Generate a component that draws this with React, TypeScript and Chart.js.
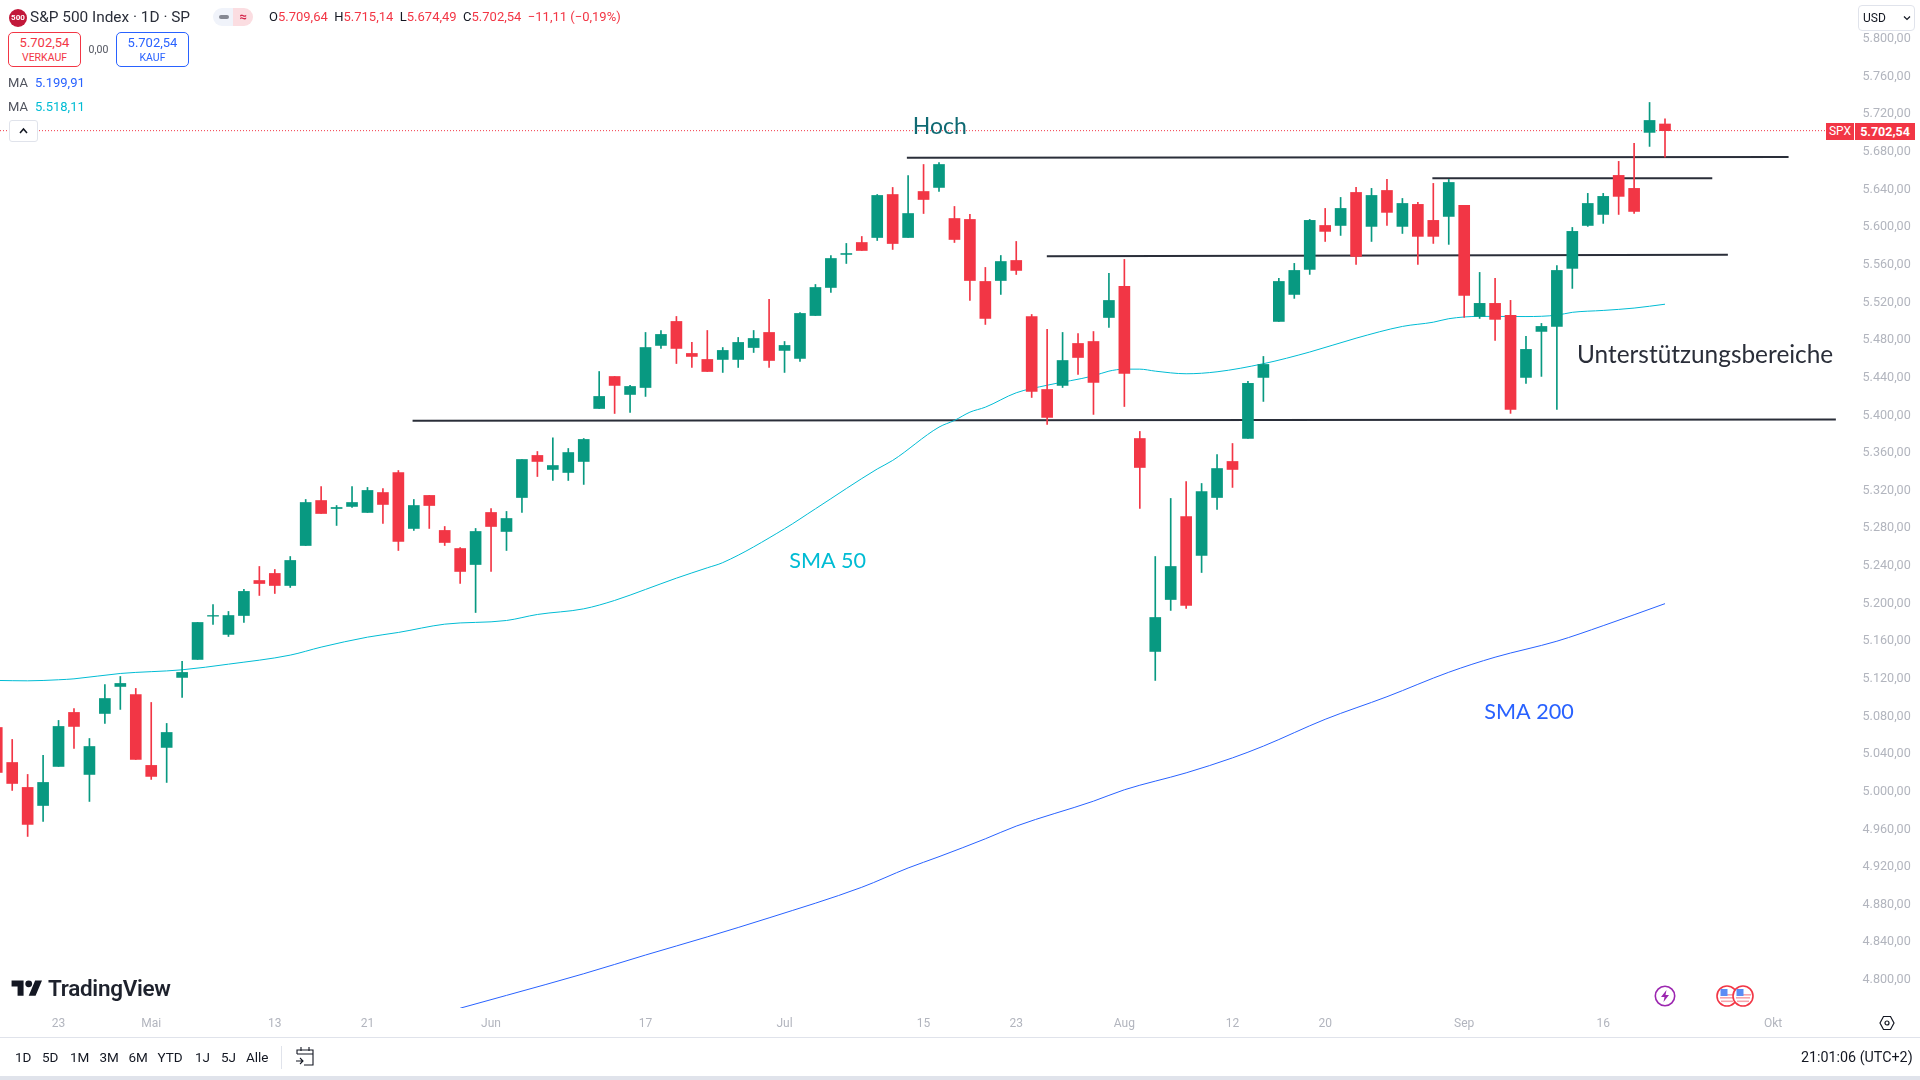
import React, { useEffect, useRef } from "react";
import { Chart, registerables } from "chart.js";

Chart.register(...registerables);

// ---- Candles: day index runs from firstDay (17 Apr 2024) upward, one per trading day
const firstDay = -1;
const opens = [5068.3,5031.1,5004.6,4985.4,5026.9,5084.3,5018.4,5083.2,5111.9,5103.4,5028.0,5047.1,5121.5,5140.6,5186.6,5167.2,5187.3,5224.5,5232.0,5219.2,5261.7,5309.5,5301.0,5303.2,5296.8,5318.0,5339.3,5279.8,5314.9,5277.7,5258.5,5241.5,5296.8,5276.6,5312.7,5357.4,5342.5,5339.3,5351.0,5407.3,5441.3,5422.2,5429.6,5474.3,5499.8,5465.8,5459.4,5459.4,5459.4,5472.1,5488.1,5469.0,5460.5,5506.1,5535.9,5571.0,5583.7,5589.0,5634.7,5589.0,5637.9,5642.2,5609.2,5608.2,5542.3,5543.3,5564.6,5505.1,5427.5,5431.8,5476.4,5478.5,5504.0,5537.0,5375.4,5149.1,5204.3,5292.5,5251.1,5312.7,5351.0,5375.5,5440.3,5499.8,5528.5,5555.1,5601.8,5601.8,5636.9,5600.8,5639.0,5600.8,5624.2,5607.2,5611.4,5623.1,5505.2,5519.0,5506.2,5440.3,5489.2,5494.5,5556.2,5601.8,5613.5,5655.0,5641.2,5700.7,5709.64];
const highs = [5077,5055.6,5018.4,5038.6,5075.8,5088.5,5056.6,5114.0,5122.5,5109.8,5094.9,5072.6,5138.5,5179.9,5199.0,5191.6,5215.0,5239.4,5236.2,5250.0,5310.6,5324.4,5304.2,5324.4,5323.4,5322.3,5341.4,5310.6,5314.9,5281.9,5259.6,5279.8,5301.0,5297.9,5353.1,5361.6,5376,5364.8,5375.4,5446.6,5441.3,5431.8,5488.1,5490.2,5505.1,5477.5,5490.2,5472.1,5482.8,5490.2,5523.2,5478.5,5509.3,5539.1,5569.9,5582.7,5590.1,5634.7,5642.2,5654.9,5666.6,5668.7,5622.0,5613.5,5557.2,5569.9,5584.8,5507.2,5491.3,5488.1,5487.0,5489.1,5550.8,5565.7,5382.9,5250.0,5311.7,5329.7,5327.6,5358.4,5370.1,5436.1,5462.6,5545.5,5561.5,5608.2,5619.9,5631.6,5642.2,5641.2,5650.7,5630.5,5626.3,5646.5,5650.7,5623.1,5551.9,5545.5,5522.2,5483.9,5497.7,5559.3,5599.7,5635.9,5635.9,5669.9,5689.0,5732.5,5715.14];
const lows = [5007,5001.4,4952.5,4968.4,5026.9,5046.0,4989.7,5072.6,5087.5,5034.3,5013.1,5009.9,5100.2,5140.6,5177.8,5165.0,5179.9,5208.6,5210.7,5217.1,5261.7,5295.7,5283.0,5302.1,5296.8,5285.1,5256.4,5277.7,5279.8,5261.7,5221.3,5190.5,5234.1,5256.4,5296.8,5335.0,5330.8,5330.8,5326.6,5407.3,5402.0,5403.1,5420.1,5471.1,5455.1,5450.9,5446.6,5445.6,5450.9,5466.8,5450.9,5445.6,5457.3,5506.1,5530.6,5561.4,5575.2,5585.8,5576.3,5589.0,5614.5,5637.9,5583.7,5522.1,5496.6,5528.5,5549.7,5419.0,5390.3,5429.6,5443.5,5401.0,5493.4,5409.4,5301.1,5118.3,5192.7,5194.8,5233.0,5300.0,5323.4,5375.5,5414.8,5499.8,5524.3,5549.8,5584.8,5591.2,5560.4,5584.8,5601.8,5593.3,5560.4,5582.7,5581.7,5504.1,5503.0,5479.7,5402.1,5434.0,5441.4,5406.3,5534.9,5600.8,5604.0,5613.5,5614.6,5685.8,5674.49];
const closes = [5020.5,5008.8,4965.3,5009.9,5069.4,5069.4,5048.1,5099.1,5115.1,5034.3,5016.3,5063.0,5126.8,5179.9,5187.3,5187.3,5212.9,5221.3,5219.2,5245.8,5307.4,5295.7,5302.1,5307.4,5320.2,5305.3,5266.0,5304.2,5304.2,5264.9,5234.1,5276.6,5281.9,5290.4,5353.1,5351.0,5346.7,5360.5,5374.4,5420.1,5431.8,5430.7,5472.1,5486.0,5471.1,5462.6,5446.6,5469.0,5477.5,5481.7,5458.3,5474.3,5508.3,5535.9,5566.7,5572.0,5575.2,5633.7,5582.6,5614.5,5629.4,5666.6,5586.9,5543.3,5503.0,5563.5,5554.0,5425.4,5397.8,5458.3,5461.5,5435.0,5522.1,5444.5,5344.6,5185.2,5239.4,5198.0,5319.1,5343.5,5342.5,5434.0,5454.1,5542.3,5554.0,5607.2,5595.5,5619.9,5568.9,5633.7,5615.7,5625.2,5590.2,5590.2,5647.5,5527.5,5519.0,5502.0,5406.3,5470.1,5494.5,5554.0,5595.5,5625.2,5632.7,5632.7,5616.7,5713.4,5702.54];

// ---- Moving averages
const sma50Days = [-1,1,3,4,7,11,14,18,20,23,25,28,32,34,37,39,41,43,45,46,50,52,56,57,60,61,62,63,65,67,70,71,72,73,74,76,78,81,84,87,90,92,93,95,98,100,101,103,105,107];
const sma50Values = [5118.3,5117.9,5119,5120,5125.7,5129.6,5135.6,5145.2,5153.7,5164.3,5169.3,5178.1,5182,5188.4,5194.4,5203.3,5215,5227,5238,5243.5,5279.5,5300.7,5343,5352.1,5387.5,5394.6,5403.4,5408.7,5424,5432,5442,5447,5449.1,5449.1,5447,5444.2,5446.3,5454.9,5467.3,5482,5494.5,5499,5502.7,5505.2,5505,5506.5,5509.5,5511.5,5514,5518.11];
const sma200Days = [29,32,37,41,45,49,55,58,60,63,65,70,72,76,79,81,85,89,93,96,100,103,107];
const sma200Values = [4770,4783.6,4806.6,4826.5,4845.8,4866,4898.5,4919,4931,4950,4963.5,4990,5002.1,5020.1,5036,5048.5,5077,5101,5127,5143,5160,5176.5,5199.91];

// ---- Drawn support / resistance lines
const levelStartDays = [57.92, 91.94, 66.98, 25.92];
const levelEndDays = [115.0, 110.06, 111.07, 118.06];
const levelStartPrices = [5673.8, 5652, 5569.2, 5394.3];
const levelEndPrices = [5674.5, 5652, 5570.7, 5395.6];

// ---- Last price line
const lastPrice = 5702.54;
const lastPriceDays = [-0.79, 117.4];

// ---- Notes on the chart
const noteTexts = ["Hoch", "Unterstützungsbereiche", "SMA 50", "SMA 200"];
const noteDays = [58.3, 101.3, 50.3, 95.3];
const notePrices = [5698.5, 5455.5, 5237.3, 5076.8];
const noteColors = ["#0f6a73", "#2a2e39", "#00bcd4", "#2962ff"];
const noteSizes = [23, 24.4, 21.6, 21.6];

// ---- Axes
const priceTicks = [5800,5760,5720,5680,5640,5600,5560,5520,5480,5440,5400,5360,5320,5280,5240,5200,5160,5120,5080,5040,5000,4960,4920,4880,4840,4800];
const timeTickDays = [3,9,17,23,31,41,50,59,65,72,79,85,94,103,114];
const timeTickLabels = ["23","Mai","13","21","Jun","17","Jul","15","23","Aug","12","20","Sep","16","Okt"];
const rangeButtons = ["1D","5D","1M","3M","6M","YTD","1J","5J","Alle"];
const rangeButtonX = [15,42,70,99.5,128.5,157.6,195,221,246];

const FONT = "Roboto, 'Noto Sans', sans-serif";
const UP = "#089981";
const DOWN = "#f23645";
const TICK = "#b2b5be";
const INK = "#131722";

const fmt = (v: number) =>
  v.toLocaleString("de-DE", { minimumFractionDigits: 2, maximumFractionDigits: 2 });

const notesPlugin = {
  id: "notes",
  afterDatasetsDraw(chart: any) {
    const { ctx, scales } = chart;
    ctx.save();
    ctx.textAlign = "left";
    ctx.textBaseline = "alphabetic";
    noteTexts.forEach((t, i) => {
      ctx.font = `${noteSizes[i]}px Lato, ${FONT}`;
      ctx.fillStyle = noteColors[i];
      ctx.fillText(t, scales.x.getPixelForValue(noteDays[i]), scales.y.getPixelForValue(notePrices[i]));
    });
    ctx.restore();
  },
};

const noPadding = (s: any) => {
  s.paddingTop = 0;
  s.paddingBottom = 0;
  s.paddingLeft = 0;
  s.paddingRight = 0;
};

function Abs({ x, y, w, h, style, children }: any) {
  return (
    <div
      style={{
        position: "absolute",
        left: x,
        top: y,
        width: w,
        height: h,
        whiteSpace: "nowrap",
        ...style,
      }}
    >
      {children}
    </div>
  );
}

function Flag({ x }: { x: number }) {
  return (
    <svg style={{ position: "absolute", left: x - 11, top: 985 }} width="22" height="22" viewBox="0 0 22 22">
      <circle cx="11" cy="11" r="10" fill="#fff" stroke="#f23645" strokeWidth="1.6" />
      <rect x="4" y="12" width="14" height="1.6" fill="#f7a5ac" />
      <rect x="5" y="15.5" width="12" height="1.6" fill="#f7a5ac" />
      <rect x="11" y="9" width="8" height="1.6" fill="#f7a5ac" />
      <rect x="4.5" y="4" width="7" height="7" fill="#5b8df5" />
    </svg>
  );
}

export default function App() {
  const ref = useRef<HTMLCanvasElement | null>(null);

  useEffect(() => {
    const days = opens.map((_, k) => firstDay + k);
    const colors = opens.map((o, k) => (closes[k] >= o ? UP : DOWN));
    const levelSets = levelStartDays.map((d, k) => ({
      type: "line",
      data: [
        { x: d, y: levelStartPrices[k] },
        { x: levelEndDays[k], y: levelEndPrices[k] },
      ],
      borderColor: "#2a2e39",
      borderWidth: 2,
      pointRadius: 0,
      order: 4,
    }));
    const chart = new Chart(ref.current as HTMLCanvasElement, {
      type: "bar",
      plugins: [notesPlugin],
      data: {
        datasets: [
          ...levelSets,
          {
            type: "line",
            label: "SMA 50",
            data: sma50Days.map((d, k) => ({ x: d, y: sma50Values[k] })),
            borderColor: "#00bcd4",
            borderWidth: 1,
            pointRadius: 0,
            cubicInterpolationMode: "monotone",
            order: 3,
          },
          {
            type: "line",
            label: "SMA 200",
            data: sma200Days.map((d, k) => ({ x: d, y: sma200Values[k] })),
            borderColor: "#2962ff",
            borderWidth: 1,
            pointRadius: 0,
            cubicInterpolationMode: "monotone",
            order: 3,
          },
          {
            type: "line",
            label: "Letzter Kurs",
            data: lastPriceDays.map((d) => ({ x: d, y: lastPrice })),
            borderColor: DOWN,
            borderWidth: 1,
            borderDash: [1, 2],
            pointRadius: 0,
            order: 5,
          },
          {
            type: "bar",
            label: "Docht",
            data: days.map((d, k) => ({ x: d, y: [lows[k], highs[k]] })),
            backgroundColor: colors,
            barThickness: 1,
            grouped: false,
            order: 2,
          },
          {
            type: "bar",
            label: "Körper",
            data: days.map((d, k) => ({ x: d, y: [opens[k], closes[k]] })),
            backgroundColor: colors,
            barThickness: 11,
            grouped: false,
            order: 1,
          },
        ] as any,
      },
      options: {
        animation: false,
        responsive: false,
        devicePixelRatio: 1,
        layout: { padding: 0, autoPadding: false },
        plugins: { legend: { display: false }, tooltip: { enabled: false } },
        scales: {
          x: {
            type: "linear",
            min: -0.79,
            max: 119.3,
            offset: false,
            grid: { display: false, drawTicks: false },
            border: { display: false },
            afterFit: (s: any) => { s.height = 72; noPadding(s); },
            afterBuildTicks: (s: any) => { s.ticks = timeTickDays.map((value) => ({ value })); },
            ticks: {
              autoSkip: false,
              maxRotation: 0,
              padding: 9,
              color: TICK,
              font: { family: FONT, size: 12 },
              callback: (v: any) => timeTickLabels[timeTickDays.indexOf(Number(v))] ?? "",
            },
          },
          y: {
            type: "linear",
            position: "right",
            min: 4770.2,
            max: 5841.4,
            grid: { display: false, drawTicks: false },
            border: { display: false },
            afterFit: (s: any) => { s.width = 65; noPadding(s); },
            afterBuildTicks: (s: any) => { s.ticks = priceTicks.map((value) => ({ value })); },
            ticks: {
              autoSkip: false,
              crossAlign: "near",
              padding: 7.5,
              color: TICK,
              font: { family: FONT, size: 12.6 },
              callback: (v: any) => fmt(Number(v)),
            },
          },
        },
      } as any,
    });
    return () => chart.destroy();
  }, []);

  return (
    <div
      style={{
        position: "fixed",
        left: 0,
        top: 0,
        width: 1920,
        height: 1080,
        background: "#fff",
        overflow: "hidden",
        fontFamily: FONT,
        color: INK,
      }}
    >
      <canvas ref={ref} width={1920} height={1080} style={{ position: "absolute", left: 0, top: 0, width: 1920, height: 1080 }} />

      {/* Header */}
      <div style={{ position: "absolute", left: 9, top: 9, width: 18, height: 18, borderRadius: 9, background: "#c2183a", color: "#fff", fontSize: 8, fontWeight: 700, textAlign: "center", lineHeight: "18px" }}>500</div>
      <Abs x={30} y={7} style={{ fontSize: 15.4, lineHeight: "20px", color: "#2a2e39" }}>S&amp;P 500 Index · 1D · SP</Abs>
      <div style={{ position: "absolute", left: 213, top: 8, width: 20, height: 18, borderRadius: "9px 0 0 9px", background: "#f0f3fa" }} />
      <div style={{ position: "absolute", left: 233, top: 8, width: 20, height: 18, borderRadius: "0 9px 9px 0", background: "#fbdde1", color: "#d4254a", fontSize: 13, textAlign: "center", lineHeight: "17px", fontWeight: 700 }}>≈</div>
      <div style={{ position: "absolute", left: 219, top: 15, width: 10, height: 4, borderRadius: 2, background: "#868993" }} />
      <Abs x={269} y={7} style={{ fontSize: 13, lineHeight: "20px", color: DOWN }}>
        <span style={{ color: INK }}>O</span>5.709,64{" "}
        <span style={{ color: INK }}>&nbsp;H</span>5.715,14{" "}
        <span style={{ color: INK }}>&nbsp;L</span>5.674,49{" "}
        <span style={{ color: INK }}>&nbsp;C</span>5.702,54&nbsp; −11,11 (−0,19%)
      </Abs>

      <div style={{ position: "absolute", left: 8, top: 32, width: 71, height: 33, border: `1px solid ${DOWN}`, borderRadius: 5, textAlign: "center", color: DOWN, background: "#fff" }}>
        <div style={{ fontSize: 13, lineHeight: "16px", marginTop: 2 }}>5.702,54</div>
        <div style={{ fontSize: 10.5, lineHeight: "13px" }}>VERKAUF</div>
      </div>
      <Abs x={81} y={42} w={35} style={{ fontSize: 10.5, lineHeight: "16px", textAlign: "center", color: "#50535e" }}>0,00</Abs>
      <div style={{ position: "absolute", left: 116, top: 32, width: 71, height: 33, border: "1px solid #2962ff", borderRadius: 5, textAlign: "center", color: "#2962ff", background: "#fff" }}>
        <div style={{ fontSize: 13, lineHeight: "16px", marginTop: 2 }}>5.702,54</div>
        <div style={{ fontSize: 10.5, lineHeight: "13px" }}>KAUF</div>
      </div>

      <Abs x={8} y={75} style={{ fontSize: 13, lineHeight: "16px" }}>
        <span style={{ color: "#50535e" }}>MA</span>
        <span style={{ color: "#2962ff", marginLeft: 7 }}>5.199,91</span>
      </Abs>
      <Abs x={8} y={99} style={{ fontSize: 13, lineHeight: "16px" }}>
        <span style={{ color: "#50535e" }}>MA</span>
        <span style={{ color: "#00bcd4", marginLeft: 7 }}>5.518,11</span>
      </Abs>
      <div style={{ position: "absolute", left: 9, top: 120, width: 27, height: 20, border: "1px solid #e0e3eb", borderRadius: 3, background: "#fff" }}>
        <svg width="27" height="20" viewBox="0 0 27 20" style={{ display: "block" }}>
          <path d="M10 12l3.5-4 3.5 4" fill="none" stroke="#131722" strokeWidth="1.5" />
        </svg>
      </div>

      {/* Price axis */}
      <div style={{ position: "absolute", left: 1858, top: 5, width: 55, height: 24, border: "1px solid #e0e3eb", borderRadius: 4, background: "#fff", fontSize: 12, lineHeight: "24px" }}>
        <span style={{ position: "absolute", left: 4, top: 0 }}>USD</span>
        <svg style={{ position: "absolute", right: 3, top: 9 }} width="8" height="6" viewBox="0 0 8 6">
          <path d="M1 1.5l3 3 3-3" fill="none" stroke="#131722" strokeWidth="1.2" />
        </svg>
      </div>
      <div style={{ position: "absolute", left: 1826, top: 123, width: 28, height: 17, background: DOWN, color: "#fff", fontSize: 12, lineHeight: "17px", textAlign: "center" }}>SPX</div>
      <div style={{ position: "absolute", left: 1855, top: 123, width: 60, height: 17, background: DOWN, color: "#fff", fontSize: 12.5, fontWeight: 700, lineHeight: "17px", textAlign: "center" }}>5.702,54</div>

      {/* TradingView logo */}
      <svg style={{ position: "absolute", left: 11, top: 977 }} width="32" height="24" viewBox="0 0 36 28">
        <path fill="#131722" d="M14 22H7V11H0V4h14v18zM28 22h-8l7.5-18h8L28 22z" />
        <circle cx="20" cy="8" r="4" fill="#131722" />
      </svg>
      <Abs x={48} y={973} style={{ fontSize: 22.5, fontWeight: 600, lineHeight: "30px", letterSpacing: -0.3, color: "#1e222d" }}>TradingView</Abs>

      {/* Event icons */}
      <svg style={{ position: "absolute", left: 1654, top: 985 }} width="22" height="22" viewBox="0 0 22 22">
        <circle cx="11" cy="11" r="9.7" fill="#fff" stroke="#9c27b0" strokeWidth="1.6" />
        <path d="M12.5 5L7 12h3.5L9.5 17 15 10h-3.5z" fill="#9c27b0" />
      </svg>
      <Flag x={1727} />
      <Flag x={1743} />

      {/* Settings */}
      <svg style={{ position: "absolute", left: 1879, top: 1015 }} width="16" height="16" viewBox="0 0 16 16">
        <path d="M4.5 1.5h7L15 8l-3.5 6.5h-7L1 8z" fill="none" stroke="#131722" strokeWidth="1.2" />
        <circle cx="8" cy="8" r="2" fill="none" stroke="#131722" strokeWidth="1.2" />
      </svg>

      {/* Footer */}
      <div style={{ position: "absolute", left: 0, top: 1037, width: 1920, height: 1, background: "#e0e3eb" }} />
      <div style={{ position: "absolute", left: 0, top: 1076, width: 1920, height: 4, background: "#e0e3eb" }} />
      {rangeButtons.map((b, k) => (
        <Abs key={b} x={rangeButtonX[k]} y={1047} style={{ fontSize: 13.5, lineHeight: "20px", color: INK }}>{b}</Abs>
      ))}
      <div style={{ position: "absolute", left: 281, top: 1046, width: 1, height: 23, background: "#e0e3eb" }} />
      <svg style={{ position: "absolute", left: 295, top: 1046 }} width="20" height="22" viewBox="0 0 20 22">
        <path d="M2 8V4h16v15H9M2 8h16M6 1v4M14 1v4M1 15h7M5 12l3 3-3 3" fill="none" stroke="#131722" strokeWidth="1.1" />
      </svg>
      <Abs x={1801} y={1047} style={{ fontSize: 14.3, lineHeight: "20px", color: INK }}>21:01:06 (UTC+2)</Abs>
    </div>
  );
}
